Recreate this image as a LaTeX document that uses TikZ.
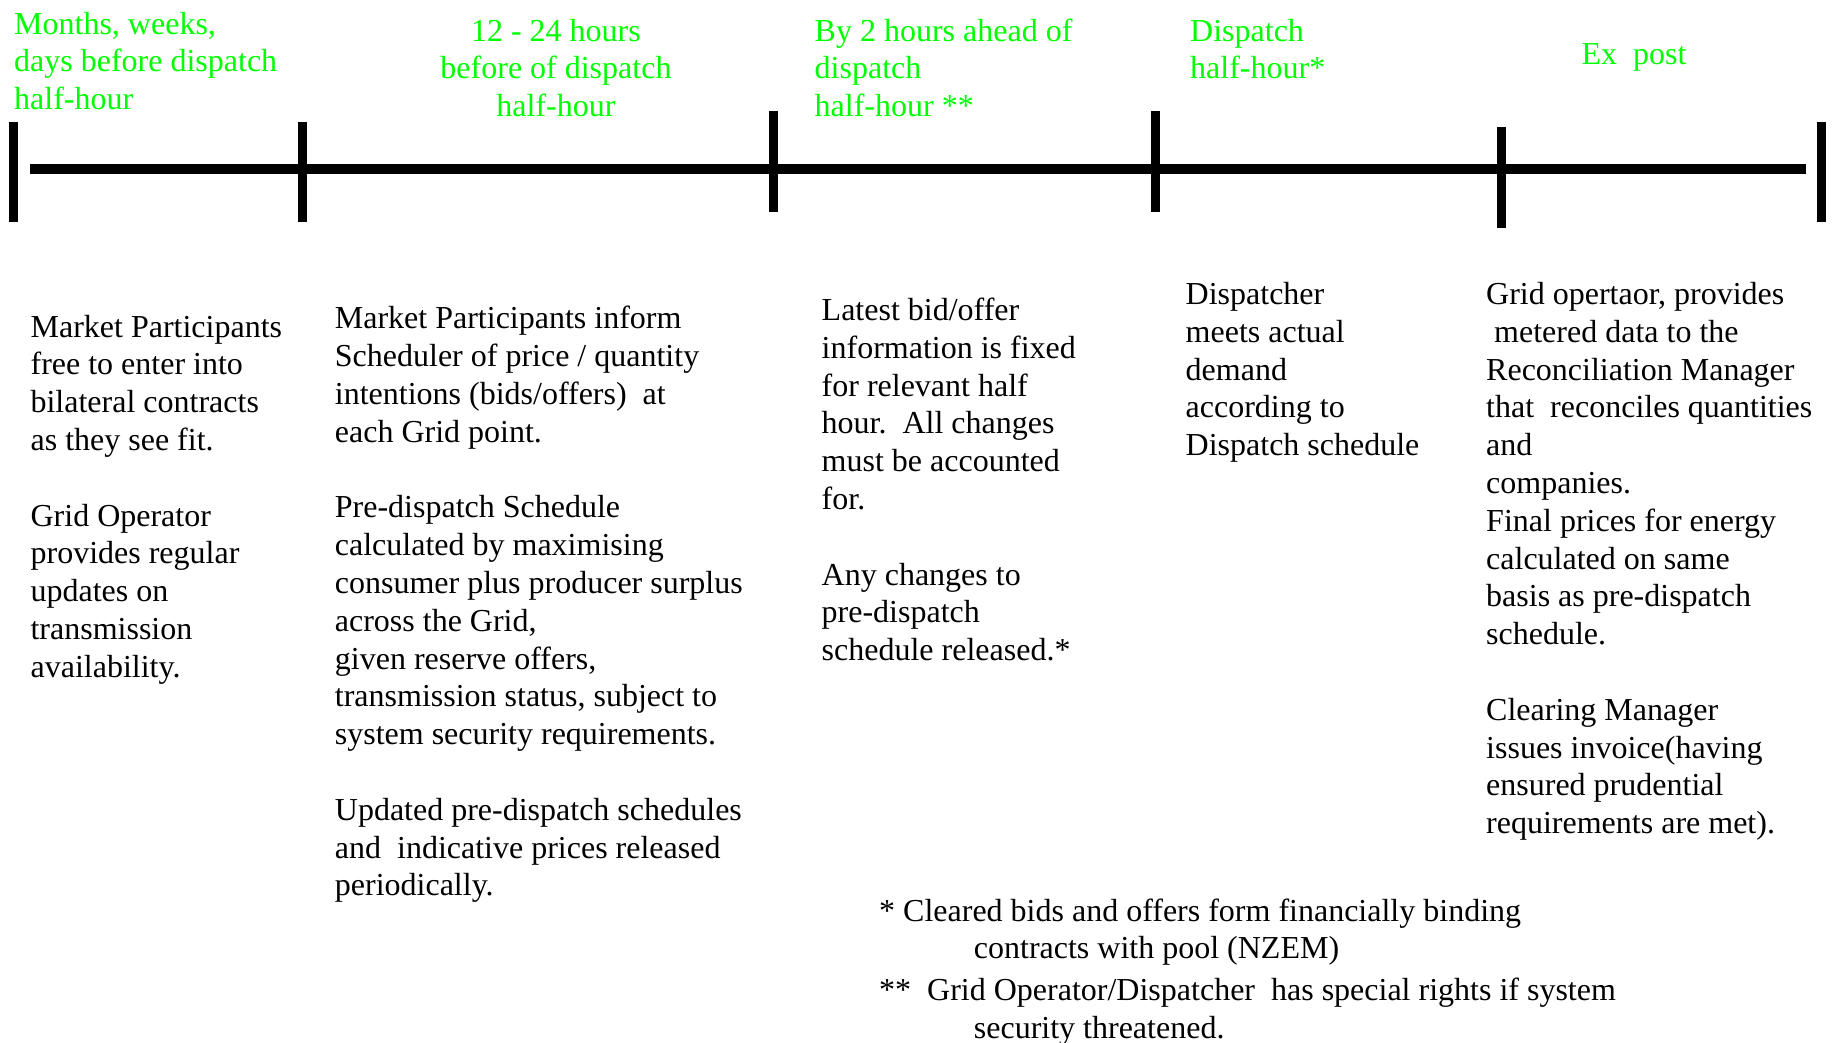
\documentclass[tikz,border=0pt]{standalone}
\usepackage{fontspec}
\setmainfont{Liberation Serif}
\definecolor{phasegreen}{RGB}{0,255,0}
\newcommand\txtsize{\fontsize{32}{37.8}\selectfont}
\tikzset{
  axisline/.style={line width=10pt},
  tickmark/.style={line width=9pt},
  phase/.style={text=phasegreen, font=\txtsize, inner sep=0pt, anchor=north west, align=left},
  body/.style={font=\txtsize, inner sep=0pt, anchor=north west, align=left},
}
\begin{document}
\begin{tikzpicture}[x=1pt, y=-1pt]
\useasboundingbox (0,0) rectangle (1835,1042);

% time axis
\draw[axisline] (30,169) -- (1806,169);
\foreach \x/\a/\b in {13/122/222, 302/122/222, 773.5/111/212, 1155/111/212, 1501/127/228, 1821/122/222}
  \draw[tickmark] (\x,\a) -- (\x,\b);

% phase headings
\node[phase] (h1) at (14,7.5) {\strut Months, weeks,\\days before dispatch\\half-hour};
\node[phase, anchor=north, align=center] (h2) at (556,14.4) {\strut 12 - 24 hours\\before of dispatch\\half-hour};
\node[phase] (h3) at (814.5,14.4) {\strut By 2 hours ahead of\\dispatch\\half-hour **};
\node[phase] (h4) at (1190,14.4) {\strut Dispatch\\half-hour*};
\node[phase, anchor=north] (h5) at (1634,37.8) {\strut Ex\ \ post};

% activities in each phase
\node[body] (a1) at (30.4,310.5) {\strut Market Participants\\free to enter into\\bilateral contracts\\as they see fit.\\[\baselineskip]
Grid Operator\\provides regular\\updates on\\transmission\\availability.};

\node[body] (a2) at (334.7,302.3) {\strut Market Participants inform\\Scheduler of price / quantity\\intentions (bids/offers)\ \ at\\each Grid point.\\[\baselineskip]
Pre-dispatch Schedule\\calculated by maximising\\consumer plus producer surplus\\across the Grid,\\given reserve offers,\\transmission status, subject to\\system security requirements.\\[\baselineskip]
Updated pre-dispatch schedules\\and\ \ indicative prices released\\periodically.};

\node[body] (a3) at (821.5,293.8) {\strut Latest bid/offer\\information is fixed\\for relevant half\\hour.\ \ All changes\\must be accounted\\for.\\[\baselineskip]
Any changes to\\pre-dispatch\\schedule released.*};

\node[body] (a4) at (1185.5,277.8) {\strut Dispatcher\\meets actual\\demand\\according to\\Dispatch schedule};

\node[body] (a5) at (1486,277.8) {\strut Grid opertaor, provides\\\ metered data to the\\Reconciliation Manager\\that\ \ reconciles quantities\\and\\companies.\\Final prices for energy\\calculated on same\\basis as pre-dispatch\\schedule.\\[\baselineskip]
Clearing Manager\\issues invoice(having\\ensured prudential\\requirements are met).};

% footnotes
\node[body] (n1) at (879,894.5) {\strut * Cleared bids and offers form financially binding\\\hspace*{94.7pt}contracts with pool (NZEM)};
\node[body] (n2) at (879,973.8) {\strut **\ \ Grid Operator/Dispatcher\ \ has special rights if system\\\hspace*{94.7pt}security threatened.};
\end{tikzpicture}
\end{document}
